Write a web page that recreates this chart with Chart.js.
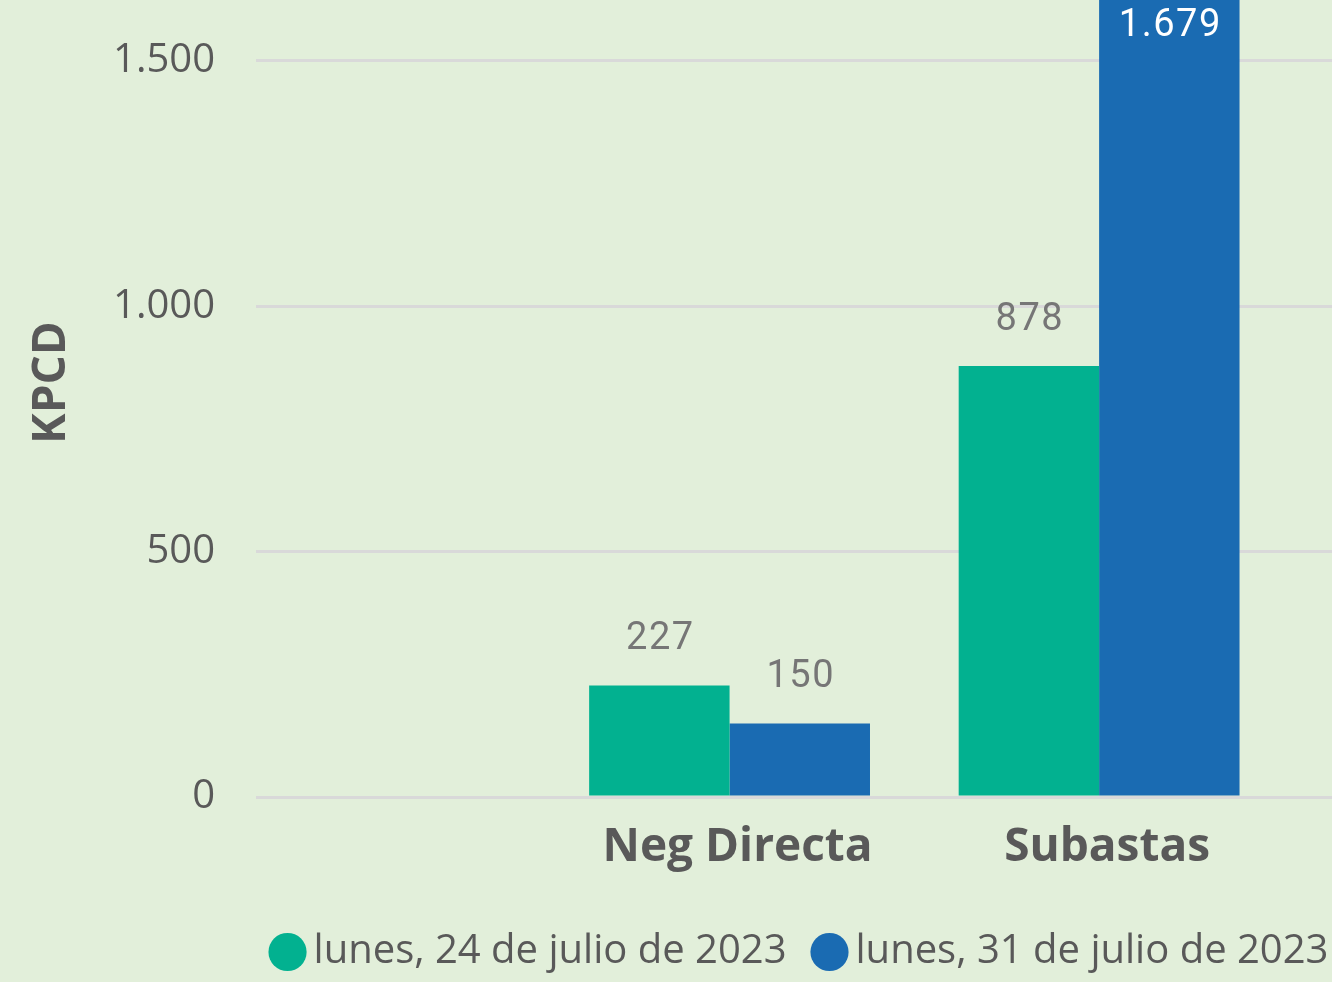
<!DOCTYPE html>
<html lang="es">
<head>
<meta charset="utf-8">
<title>KPCD - Neg Directa y Subastas</title>
<script src="https://cdn.jsdelivr.net/npm/chart.js@4"></script>
<style>
  html, body { margin: 0; padding: 0; background: #E2EFDA; overflow: hidden; width: 1332px; height: 982px; }
  #wrap { position: absolute; left: 0; top: -112px; width: 1610px; height: 1094px; }
</style>
</head>
<body>
<div id="wrap"><canvas id="kpcdChart"></canvas></div>
<script>
// datos
const categorias = ['Neg Directa', 'Subastas'];
const serie24Julio = [227, 878];
const serie31Julio = [150, 1679];
const etiquetasSeries = ['lunes, 24 de julio de 2023', 'lunes, 31 de julio de 2023'];
const ticksY = [0, 500, 1000, 1500];

// el grafico original esta recortado: la primera categoria cae a 1,28 anchos de banda del eje
const desfase = 1.2815;

Chart.defaults.font.family = "'Open Sans', sans-serif";

function fmt(v) {
    return String(v).replace(/\B(?=(\d{3})+(?!\d))/g, '.');
}

// etiquetas de valor encima de cada barra (dentro si no cabe arriba)
const etiquetasValor = {
    id: 'etiquetasValor',
    afterDatasetsDraw(chart) {
        const ctx = chart.ctx;
        const area = chart.chartArea;
        ctx.save();
        ctx.font = '38px Roboto';
        ctx.letterSpacing = '1.5px';
        ctx.textAlign = 'center';
        ctx.textBaseline = 'middle';
        chart.data.datasets.forEach((ds, i) => {
            chart.getDatasetMeta(i).data.forEach((bar, j) => {
                let y = bar.y - 46;
                if (y - 20 < area.top) {
                    ctx.fillStyle = '#FFFFFF';
                    y = bar.y + 54;
                } else {
                    ctx.fillStyle = '#767676';
                }
                ctx.fillText(fmt(ds.data[j].y), bar.x + 1, y);
            });
        });
        ctx.restore();
    }
};

function puntos(valores) {
    return categorias.map((c, i) => ({ x: i + desfase, y: valores[i] }));
}

new Chart(document.getElementById('kpcdChart'), {
    type: 'bar',
    data: {
        datasets: [{
            label: etiquetasSeries[0],
            data: puntos(serie24Julio),
            backgroundColor: '#02B190',
            borderWidth: 0
        }, {
            label: etiquetasSeries[1],
            data: puntos(serie31Julio),
            backgroundColor: '#1A6BB2',
            borderWidth: 0
        }]
    },
    options: {
        responsive: true,
        maintainAspectRatio: false,
        animation: false,
        categoryPercentage: 0.76,
        barPercentage: 1,
        layout: { padding: { top: 80, left: 0, right: 0, bottom: 0 } },
        plugins: {
            tooltip: { enabled: false },
            legend: {
                position: 'bottom',
                labels: {
                    usePointStyle: true,
                    pointStyle: 'circle',
                    boxWidth: 12,
                    boxHeight: 27,
                    padding: 37,
                    color: '#595959',
                    font: { size: 40 }
                }
            }
        },
        scales: {
            x: {
                type: 'linear',
                min: 0,
                max: 3.664,
                offset: false,
                grid: { display: false, offset: false },
                border: { display: false },
                afterBuildTicks: s => { s.ticks = categorias.map((c, i) => ({ value: i + desfase })); },
                afterFit: s => { s.height = 98; },
                ticks: {
                    callback: (v, i) => categorias[i],
                    autoSkip: false,
                    maxRotation: 0,
                    padding: 15,
                    labelOffset: 8,
                    color: '#595959',
                    font: { size: 46, weight: 'bold' }
                }
            },
            y: {
                min: 0,
                max: 1689,
                grid: { color: '#D9D9D9', lineWidth: 3, drawTicks: false },
                border: { display: false },
                afterBuildTicks: s => { s.ticks = ticksY.map(v => ({ value: v })); },
                afterFit: s => { s.width = 256; },
                ticks: {
                    callback: v => fmt(v),
                    padding: 41,
                    color: '#595959',
                    font: { size: 40 }
                },
                title: {
                    display: true,
                    text: 'KPCD',
                    color: '#595959',
                    font: { size: 46, weight: 'bold' },
                    padding: { top: 24, bottom: 0 }
                }
            }
        }
    },
    plugins: [etiquetasValor]
});
</script>
</body>
</html>
